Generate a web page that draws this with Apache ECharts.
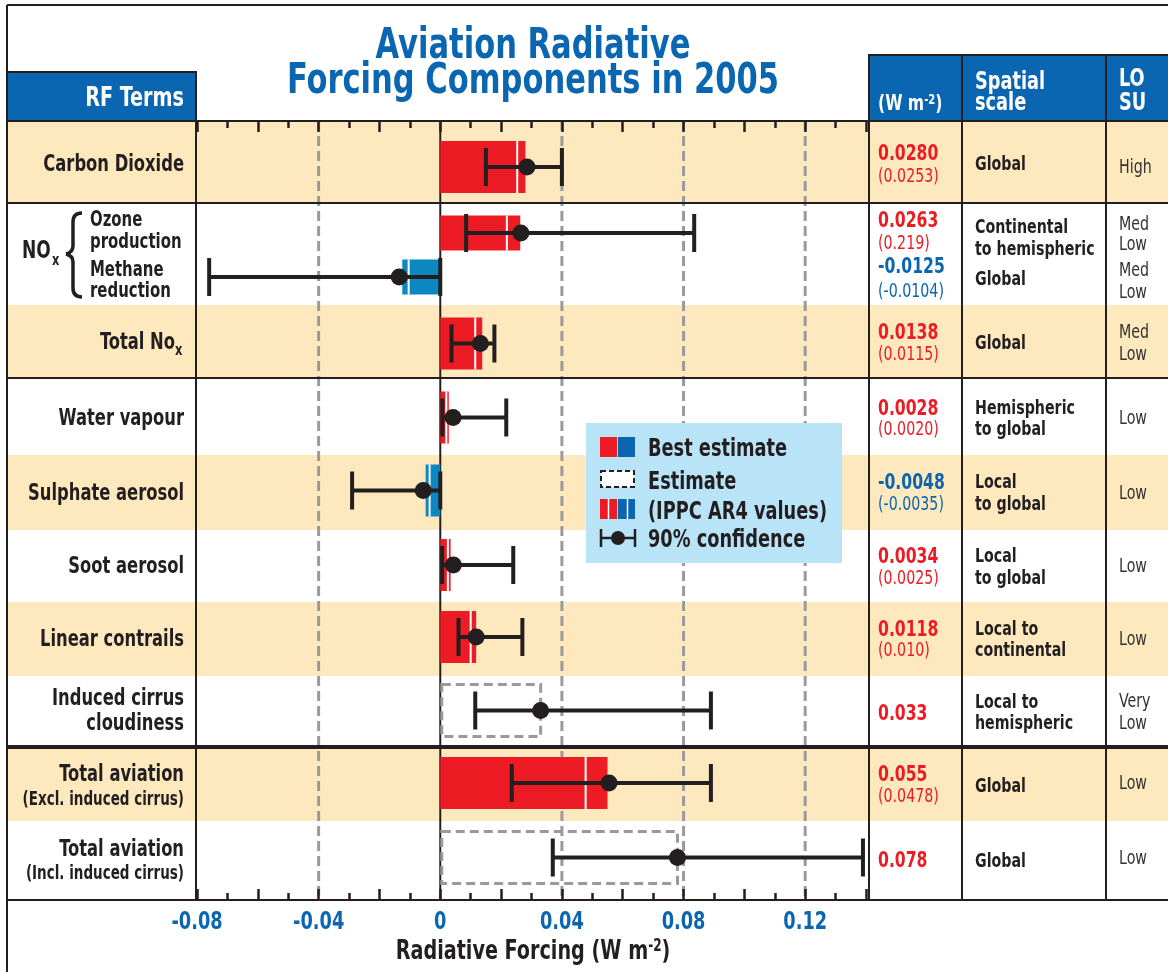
<!DOCTYPE html>
<html>
<head>
<meta charset="utf-8">
<title>Aviation Radiative Forcing Components in 2005</title>
<script src="https://cdn.jsdelivr.net/npm/echarts@6/dist/echarts.min.js"></script>
<style>
	html, body { margin:0; padding:0; background:#fff; }
	#grafico { width:1168px; height:972px; }
</style>
</head>
<body>
<div id="grafico"></div>
<script>
	// DADOS DO GRAFICO (W m-2)
	// -----------------------------------------------------------------------------------------------
	var termos  = ['Carbon Dioxide', 'Ozone production', 'Methane reduction', 'Total NOx', 'Water vapour', 'Sulphate aerosol', 'Soot aerosol', 'Linear contrails', 'Induced cirrus cloudiness', 'Total aviation (Excl. induced cirrus)', 'Total aviation (Incl. induced cirrus)'];
	var melhor  = [0.0280, 0.0263, -0.0125, 0.0138, 0.0028, -0.0048, 0.0034, 0.0118, 0.033, 0.055, 0.078];
	var ar4     = [0.0253, 0.0219, -0.0104, 0.0115, 0.0020, -0.0035, 0.0025, 0.010, null, 0.0478, null];
	var minimo  = [0.015, 0.0085, -0.076, 0.0037, 0.0007, -0.029, 0.0006, 0.006, 0.0115, 0.0235, 0.037];
	var maximo  = [0.040, 0.0835, 0.0, 0.0178, 0.0217, 0.0, 0.024, 0.027, 0.089, 0.089, 0.139];
	var ponto   = [0.0285, 0.0265, -0.0135, 0.0132, 0.0042, -0.0056, 0.0043, 0.0118, 0.033, 0.0555, 0.078];
	var tipo    = ['best', 'best', 'best', 'best', 'best', 'best', 'best', 'best', 'est', 'best', 'est'];
	var marcas  = [-0.08, -0.04, 0, 0.04, 0.08, 0.12];
	var grade   = [-0.04, 0, 0.04, 0.08, 0.12];

	// textos da tabela
	var rfTexto  = ['0.0280', '0.0263', '-0.0125', '0.0138', '0.0028', '-0.0048', '0.0034', '0.0118', '0.033', '0.055', '0.078'];
	var ar4Texto = ['(0.0253)', '(0.219)', '(-0.0104)', '(0.0115)', '(0.0020)', '(-0.0035)', '(0.0025)', '(0.010)', '', '(0.0478)', ''];
	var escala   = [['Global'], ['Continental', 'to hemispheric'], ['Global'], ['Global'], ['Hemispheric', 'to global'], ['Local', 'to global'], ['Local', 'to global'], ['Local to', 'continental'], ['Local to', 'hemispheric'], ['Global'], ['Global']];
	var losu     = [['High'], ['Med', 'Low'], ['Med', 'Low'], ['Med', 'Low'], ['Low'], ['Low'], ['Low'], ['Low'], ['Very', 'Low'], ['Low'], ['Low']];

	// LAYOUT (px)
	// -----------------------------------------------------------------------------------------------
	var topo = 121;
	var alturaLinha  = [82, 102, 73, 77, 75, 72, 74, 71, 74, 79];
	var linhaDoTermo = [0, 1, 1, 2, 3, 4, 5, 6, 7, 8, 9];
	var ajuste       = [5, -21, 23, 2, 1, -2, -1, -2, -1, -1, -3];
	var rfY     = [152, 219, 265, 331, 407, 481, 555, 628, 712, 773, 859];
	var ar4Y    = [175, 242, 290, 353, 428, 503, 577, 649, 0, 795, 0];
	var escalaY = [[163], [226, 248], [278], [342], [407, 428], [481, 503], [555, 577], [628, 649], [701, 722], [785], [860]];
	var losuY   = [[166], [223, 243], [269, 291], [331, 353], [417], [492], [565], [638], [700, 722], [782], [857]];

	var FONTE = '"DejaVu Sans Condensed","DejaVu Sans",sans-serif';
	var ESTREITO = 0.79; // compressao horizontal do texto
	var DY = 2;          // acerto vertical do texto
	var PRETO = '#231f20';
	var VERMELHO = '#ed1c24';
	var AZUL = '#0b66b2';
	var AZUL_BARRA = '#0a88bf';
	var BEGE = '#fde9bd';
	var CINZA = '#9a9a9a';

	var inicioLinha = [];
	var soma = 0;
	for (var r = 0; r < alturaLinha.length; r++) { inicioLinha.push(soma); soma += alturaLinha[r]; }

	var yTermo = termos.map(function(t, i){
		var r = linhaDoTermo[i];
		return inicioLinha[r] + alturaLinha[r] / 2 + ajuste[i];
	});

	// ELEMENTOS GRAFICOS (tabela, titulo, legenda)
	// -----------------------------------------------------------------------------------------------
	var g = [];
	var texto = function(x, y, s, tam, cor, peso, alinha, z, rich, sx){
		var el = { type: 'text', x: x, y: y + DY, z: z || 40, silent: true, scaleX: sx || ESTREITO,
			style: { text: s, fontSize: tam, fontFamily: FONTE, fontWeight: peso || 'bold', fill: cor || PRETO,
				align: alinha || 'left', verticalAlign: 'middle', textAlign: alinha || 'left', textVerticalAlign: 'middle' } };
		if (rich) el.style.rich = rich;
		g.push(el);
	};
	var linha = function(x1, y1, x2, y2, larg, cor, z){
		g.push({ type: 'line', z: z || 45, silent: true, shape: { x1: x1, y1: y1, x2: x2, y2: y2 }, style: { stroke: cor || PRETO, lineWidth: larg || 2 } });
	};
	var curva = function(x1, y1, c1x, c1y, c2x, c2y, x2, y2){
		g.push({ type: 'bezierCurve', z: 40, silent: true, shape: { x1: x1, y1: y1, cpx1: c1x, cpy1: c1y, cpx2: c2x, cpy2: c2y, x2: x2, y2: y2 }, style: { fill: 'none', stroke: PRETO, lineWidth: 3.5 } });
	};
	var caixa = function(x, y, w, h, estilo, z){
		g.push({ type: 'rect', z: z || 0, silent: true, shape: { x: x, y: y, width: w, height: h }, style: estilo });
	};

	// faixas bege
	for (var r = 0; r < alturaLinha.length; r += 2) {
		caixa(8, topo + inicioLinha[r], 1160, alturaLinha[r], { fill: BEGE }, 0);
	}

	// cabecalhos azuis
	caixa(7, 72, 189, 49, { fill: AZUL, stroke: PRETO, lineWidth: 2 }, 44);
	caixa(869, 55, 300, 66, { fill: AZUL, stroke: PRETO, lineWidth: 2 }, 44);
	texto(184, 97, 'RF Terms', 27, '#fff', 'bold', 'right', 46);
	texto(878, 102, '(W m{s|-2})', 22, '#fff', 'bold', 'left', 46, { s: { fontSize: 14, lineHeight: 10, verticalAlign: 'top', fill: '#fff', fontWeight: 'bold', fontFamily: FONTE } });
	texto(975, 80, 'Spatial', 25, '#fff', 'bold', 'left', 46);
	texto(975, 101, 'scale', 25, '#fff', 'bold', 'left', 46);
	texto(1119, 77, 'LO', 25, '#fff', 'bold', 'left', 46);
	texto(1119, 101, 'SU', 25, '#fff', 'bold', 'left', 46);

	// titulo
	texto(533, 45, 'Aviation Radiative', 43, AZUL, 'bold', 'center');
	texto(533, 80, 'Forcing Components in 2005', 43, AZUL, 'bold', 'center');

	// linhas da moldura
	linha(7, 5, 1168, 5, 2);
	linha(7, 5, 7, 972, 2);
	linha(7, 121, 1168, 121, 2);
	linha(7, 203, 1168, 203, 2);
	linha(7, 378, 1168, 378, 2);
	linha(7, 747, 1168, 747, 4);
	linha(7, 900, 1168, 900, 2);
	linha(196, 72, 196, 900, 2);
	linha(869, 55, 869, 900, 2);
	linha(962, 55, 962, 900, 2);
	linha(1106, 55, 1106, 900, 2);

	// rotulos dos termos
	texto(184, 163, 'Carbon Dioxide', 23, PRETO, 'bold', 'right');
	texto(22, 250, 'NO', 24, PRETO, 'bold', 'left');
	texto(52, 259, 'x', 16, PRETO, 'bold', 'left');
	curva(82, 213, 76, 213, 73, 216, 73, 222);
	linha(73, 222, 73, 246, 3.5, PRETO, 40);
	curva(73, 246, 73, 250, 70, 253, 66, 254);
	curva(66, 254, 70, 255, 73, 258, 73, 262);
	linha(73, 262, 73, 288, 3.5, PRETO, 40);
	curva(73, 288, 73, 294, 76, 297, 82, 297);
	texto(90, 219, 'Ozone', 21, PRETO, 'bold', 'left');
	texto(90, 241, 'production', 21, PRETO, 'bold', 'left');
	texto(90, 269, 'Methane', 21, PRETO, 'bold', 'left');
	texto(90, 290, 'reduction', 21, PRETO, 'bold', 'left');
	texto(175, 341, 'Total No', 23, PRETO, 'bold', 'right');
	texto(175, 349, 'x', 16, PRETO, 'bold', 'left');
	texto(184, 417, 'Water vapour', 23, PRETO, 'bold', 'right');
	texto(184, 492, 'Sulphate aerosol', 23, PRETO, 'bold', 'right');
	texto(184, 565, 'Soot aerosol', 23, PRETO, 'bold', 'right');
	texto(184, 638, 'Linear contrails', 23, PRETO, 'bold', 'right');
	texto(184, 697, 'Induced cirrus', 23, PRETO, 'bold', 'right');
	texto(184, 722, 'cloudiness', 23, PRETO, 'bold', 'right');
	texto(184, 773, 'Total aviation', 23, PRETO, 'bold', 'right');
	texto(184, 798, '(Excl. induced cirrus)', 19, PRETO, 'bold', 'right');
	texto(184, 848, 'Total aviation', 23, PRETO, 'bold', 'right');
	texto(184, 872, '(Incl. induced cirrus)', 19, PRETO, 'bold', 'right');

	// colunas da direita
	for (var i = 0; i < termos.length; i++) {
		var corTxt = melhor[i] < 0 ? AZUL : VERMELHO;
		texto(878, rfY[i], rfTexto[i], 22, corTxt, 'bold', 'left');
		if (ar4Texto[i]) texto(878, ar4Y[i], ar4Texto[i], 20, corTxt, 'normal', 'left');
		for (var k = 0; k < escala[i].length; k++) texto(975, escalaY[i][k], escala[i][k], 20, PRETO, 'bold', 'left');
		for (var k = 0; k < losu[i].length; k++) texto(1119, losuY[i][k], losu[i][k], 20, '#333', 'normal', 'left');
	}

	// legenda
	caixa(586, 423, 256, 140, { fill: '#b9e3f7' }, 10);
	caixa(600, 437, 17, 20, { fill: VERMELHO }, 11);
	caixa(618, 437, 17, 20, { fill: AZUL }, 11);
	caixa(601, 471, 33, 16, { fill: '#fff', stroke: PRETO, lineWidth: 2, lineDash: [5, 3] }, 11);
	caixa(600, 499, 17, 20, { fill: VERMELHO }, 11);
	caixa(618, 499, 17, 20, { fill: AZUL }, 11);
	linha(608.5, 499, 608.5, 519, 1.5, '#fff', 12);
	linha(627.5, 499, 627.5, 519, 1.5, '#fff', 12);
	linha(601, 538, 635, 538, 2.5, PRETO, 12);
	linha(601, 529, 601, 547, 2.5, PRETO, 12);
	linha(635, 529, 635, 547, 2.5, PRETO, 12);
	g.push({ type: 'circle', z: 12, silent: true, shape: { cx: 618, cy: 538, r: 7 }, style: { fill: PRETO } });
	texto(648, 447, 'Best estimate', 25, PRETO, 'bold', 'left', 12);
	texto(648, 480, 'Estimate', 25, PRETO, 'bold', 'left', 12);
	texto(648, 510, '(IPPC AR4 values)', 25, PRETO, 'bold', 'left', 12);
	texto(648, 538, '90% confidence', 25, PRETO, 'bold', 'left', 12);

	// nome do eixo
	texto(533, 950, 'Radiative Forcing (W m{s|-2})', 27, PRETO, 'bold', 'center', 40, { s: { fontSize: 17, lineHeight: 12, verticalAlign: 'top', fill: PRETO, fontWeight: 'bold', fontFamily: FONTE } });

	// FUNCOES DE DESENHO
	// -----------------------------------------------------------------------------------------------
	var desenhaGrade = function(params, api){
		var v = api.value(0);
		var a = api.coord([v, 0]);
		var b = api.coord([v, soma]);
		var estilo = v === 0 ? { stroke: PRETO, lineWidth: 2 } : { stroke: CINZA, lineWidth: 3, lineDash: [10, 5] };
		return { type: 'line', shape: { x1: a[0], y1: a[1], x2: b[0], y2: b[1] }, style: estilo };
	};

	var desenhaRotulo = function(params, api){
		var v = api.value(0);
		var p = api.coord([v, soma]);
		return { type: 'text', x: p[0], y: p[1] + 22, scaleX: ESTREITO,
			style: { text: String(v), fontSize: 25, fontFamily: FONTE, fontWeight: 'bold', fill: AZUL,
				align: 'center', verticalAlign: 'middle', textAlign: 'center', textVerticalAlign: 'middle' } };
	};

	var desenhaTermo = function(params, api){
		var i = params.dataIndex;
		var yc = api.value(1);
		var p0 = api.coord([0, yc]);
		var pb = api.coord([api.value(0), yc]);
		var pl = api.coord([minimo[i], yc]);
		var ph = api.coord([maximo[i], yc]);
		var pd = api.coord([ponto[i], yc]);
		var alt = linhaDoTermo[i] == 1 ? 35 : 52;
		var x0 = Math.min(p0[0], pb[0]);
		var w = Math.abs(pb[0] - p0[0]);
		var filhos = [];
		if (tipo[i] == 'best') {
			filhos.push({ type: 'rect', shape: { x: x0, y: p0[1] - alt / 2, width: w, height: alt }, style: { fill: melhor[i] < 0 ? AZUL_BARRA : VERMELHO } });
			if (ar4[i] != null) {
				var pa = api.coord([ar4[i], yc]);
				filhos.push({ type: 'line', shape: { x1: pa[0], y1: p0[1] - alt / 2, x2: pa[0], y2: p0[1] + alt / 2 }, style: { stroke: '#fff', lineWidth: 2 } });
			}
		} else {
			filhos.push({ type: 'rect', shape: { x: x0 + 1.5, y: p0[1] - alt / 2, width: w - 1.5, height: alt }, style: { fill: 'none', stroke: CINZA, lineWidth: 3, lineDash: [9, 5] } });
		}
		filhos.push({ type: 'line', shape: { x1: pl[0], y1: p0[1], x2: ph[0], y2: p0[1] }, style: { stroke: PRETO, lineWidth: 4 } });
		filhos.push({ type: 'line', shape: { x1: pl[0], y1: p0[1] - 19, x2: pl[0], y2: p0[1] + 19 }, style: { stroke: PRETO, lineWidth: 4 } });
		filhos.push({ type: 'line', shape: { x1: ph[0], y1: p0[1] - 19, x2: ph[0], y2: p0[1] + 19 }, style: { stroke: PRETO, lineWidth: 4 } });
		filhos.push({ type: 'circle', shape: { cx: pd[0], cy: pd[1], r: 8.5 }, style: { fill: PRETO } });
		return { type: 'group', children: filhos };
	};

	var eixo = function(pos){
		return {
			type: 'value', position: pos, min: -0.08, max: 0.14, interval: 0.02, z: 30,
			axisLine: { show: true, onZero: false, lineStyle: { color: PRETO, width: 2 } },
			axisTick: { show: true, inside: true, length: 11, lineStyle: { color: PRETO, width: 2.5 } },
			minorTick: { show: true, splitNumber: 2, length: 7, lineStyle: { color: PRETO, width: 2.5 } },
			splitLine: { show: false },
			minorSplitLine: { show: false },
			axisLabel: { show: false }
		};
	};

	// MONTA O GRAFICO
	// -----------------------------------------------------------------------------------------------
	var grafico = echarts.init(document.getElementById('grafico'));
	var opcao = {
		animation: false,
		grid: { left: 197, top: topo, width: 669, height: soma },
		xAxis: [eixo('bottom'), eixo('top')],
		yAxis: { type: 'value', min: 0, max: soma, inverse: true, show: false },
		graphic: { elements: g },
		series: [
			{ type: 'custom', name: 'grade', z: 5, silent: true, data: grade.map(function(v){ return [v, 0]; }), encode: { x: 0, y: 1 }, renderItem: desenhaGrade },
			{ type: 'custom', name: 'rotulos', z: 30, silent: true, clip: false, data: marcas.map(function(v){ return [v, soma]; }), encode: { x: 0, y: 1 }, renderItem: desenhaRotulo },
			{ type: 'custom', name: 'termos', z: 20, silent: true, data: termos.map(function(t, i){ return [melhor[i], yTermo[i]]; }), encode: { x: 0, y: 1 }, renderItem: desenhaTermo }
		]
	};
	grafico.setOption(opcao);
</script>
</body>
</html>
